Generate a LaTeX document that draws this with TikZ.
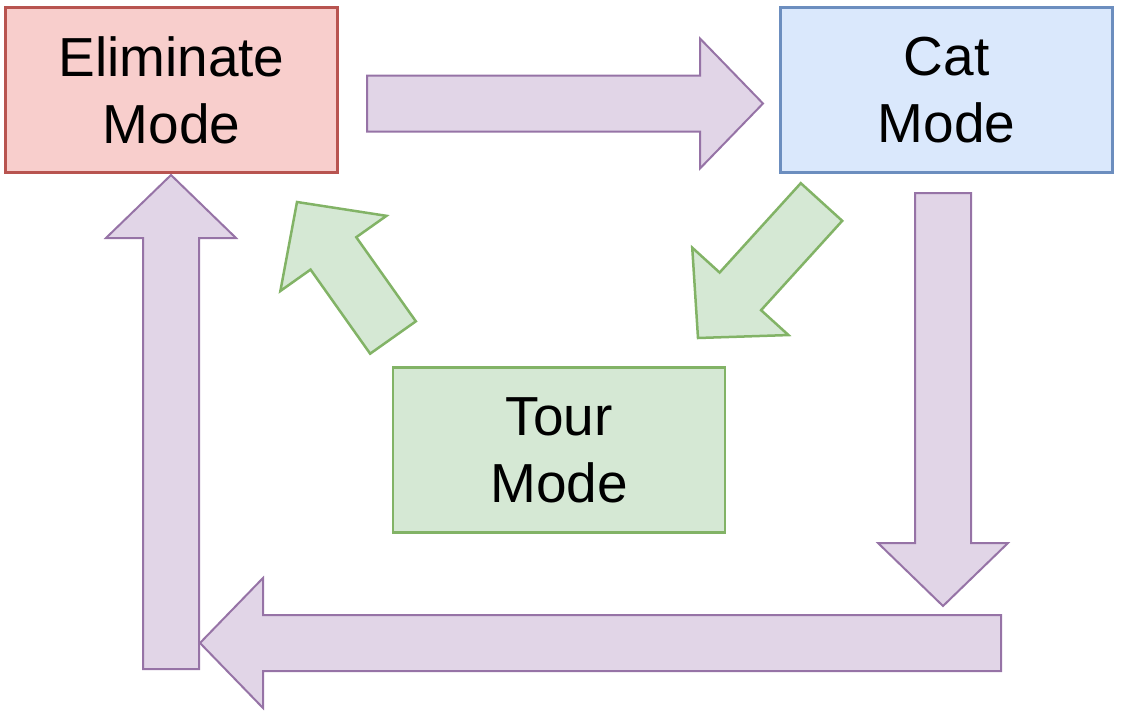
\documentclass[tikz,border=0pt]{standalone}
\usepackage{fontspec}
\setmainfont{Liberation Sans}
\usetikzlibrary{calc}

\definecolor{elimfill}{HTML}{F8CECC}
\definecolor{elimline}{HTML}{B85450}
\definecolor{catfill}{HTML}{DAE8FC}
\definecolor{catline}{HTML}{6C8EBF}
\definecolor{tourfill}{HTML}{D5E8D4}
\definecolor{tourline}{HTML}{82B366}
\definecolor{loopfill}{HTML}{E1D5E7}
\definecolor{loopline}{HTML}{9673A6}

% block arrow from #2 to #3, style #1
\newcommand{\shaftw}{28pt}
\newcommand{\headw}{65pt}
\newcommand{\headl}{63pt}
\newcommand{\modearrow}[3]{%
  \filldraw[#1] ($(#2)!\shaftw!90:(#3)$) -- ($(#3)!\headl!(#2)!\shaftw!90:(#3)$)
    -- ($(#3)!\headl!(#2)!\headw!90:(#3)$) -- (#3)
    -- ($(#3)!\headl!(#2)!\headw!-90:(#3)$) -- ($(#3)!\headl!(#2)!\shaftw!-90:(#3)$)
    -- ($(#2)!\shaftw!-90:(#3)$) -- cycle;}

\begin{document}
\begin{tikzpicture}[x=1pt,y=1pt,yscale=-1,xscale=1,
  mode/.style={draw, line width=2.75pt, minimum width=332pt, minimum height=165pt,
    inner sep=0pt, align=center, font=\fontsize{55}{67}\selectfont},
  looparrow/.style={fill=loopfill, draw=loopline, line width=2pt, line join=miter},
  tourarrow/.style={fill=tourfill, draw=tourline, line width=2.5pt, line join=miter}]
\useasboundingbox (0,0) rectangle (1125,712);

% Mode boxes
\node [mode, fill=elimfill, draw=elimline] (elim) at (171.5,90) {Eliminate\\Mode};
\node [mode, fill=catfill, draw=catline] (cat) at (946.5,90) {Cat\\Mode};
\node [mode, fill=tourfill, draw=tourline] (tour) at (559,450) {Tour\\Mode};

% Arrow ends
\coordinate (ec1) at (367,103.5);
\coordinate (ec2) at (763,103.5);
\coordinate (cd1) at (943,193);
\coordinate (cd2) at (943,606);
\coordinate (bl1) at (1001,643);
\coordinate (bl2) at (200,643);
\coordinate (ue1) at (171,669);
\coordinate (ue2) at (171,175);
\coordinate (ct1) at (821.5,202);
\coordinate (ct2) at (698,338);
\coordinate (te1) at (393,337.5);
\coordinate (te2) at (297,202);

% Loop arrows
\modearrow{looparrow}{ec1}{ec2}
\modearrow{looparrow}{cd1}{cd2}
\modearrow{looparrow}{bl1}{bl2}
\modearrow{looparrow}{ue1}{ue2}

% Tour arrows
\modearrow{tourarrow}{ct1}{ct2}
\modearrow{tourarrow}{te1}{te2}

\end{tikzpicture}
\end{document}
